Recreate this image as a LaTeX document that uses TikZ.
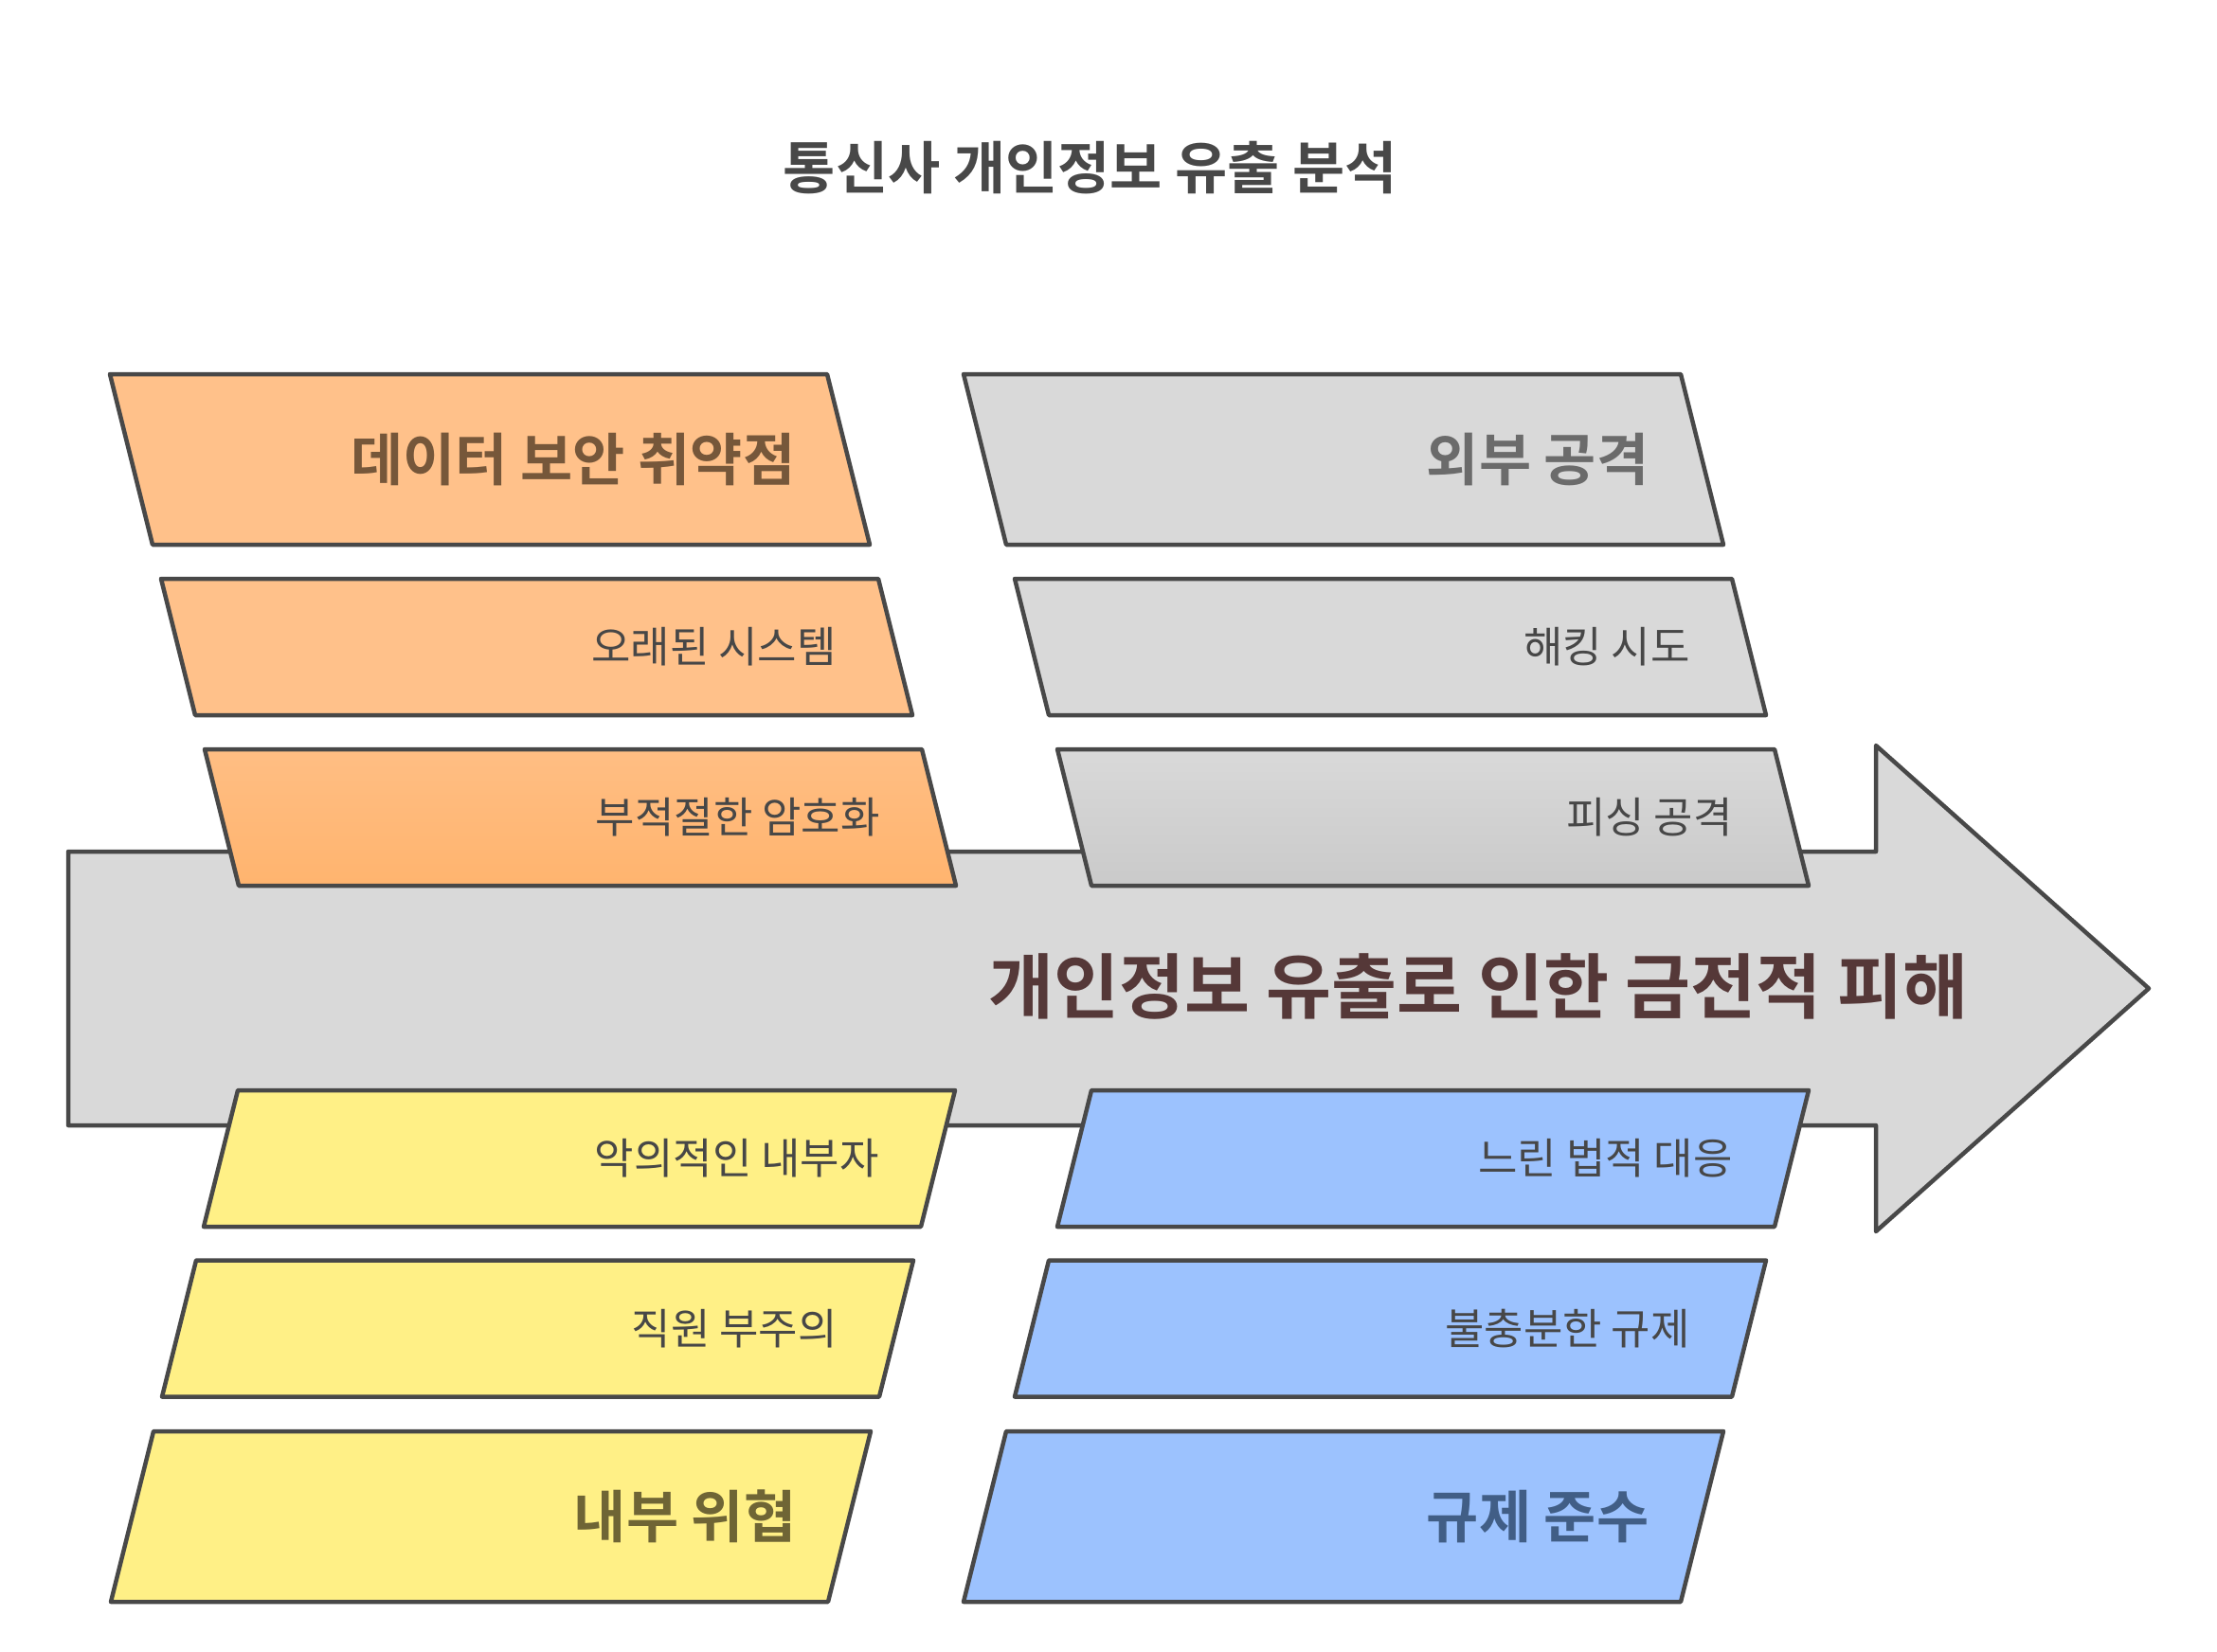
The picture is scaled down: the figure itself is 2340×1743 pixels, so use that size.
\documentclass[tikz,border=0pt]{standalone}
\usepackage{fontspec}
\usepackage{xcolor}
\usepackage{tikz}
\newfontfamily\krfont{Noto Sans CJK KR}[BoldFont={Noto Sans CJK KR Bold}]
\definecolor{edge}{HTML}{484848}
\definecolor{spinefill}{HTML}{D9D9D9}
\definecolor{orfill}{HTML}{FFC18A}
\definecolor{yefill}{HTML}{FFF086}
\definecolor{blfill}{HTML}{9CC2FE}
\definecolor{grfill}{HTML}{D9D9D9}
\definecolor{subtxt}{HTML}{474747}
\definecolor{hdbrown}{HTML}{76573A}
\definecolor{hdgray}{HTML}{6B6B6B}
\definecolor{hdolive}{HTML}{6F6535}
\definecolor{hdblue}{HTML}{415E86}
\definecolor{effecttxt}{HTML}{553838}
\definecolor{titletxt}{HTML}{484848}

\begin{document}
\begin{tikzpicture}[x=1pt, y=-1pt, line width=4.5pt, line join=round,
  orflat/.style={fill=orfill},
  orgrad/.style={top color=orfill!95!orange, bottom color=orfill!80!orange},
  grflat/.style={fill=grfill},
  grgrad/.style={top color=grfill, bottom color=grfill!93!black},
  yeflat/.style={fill=yefill},
  blflat/.style={fill=blfill},
  sublab/.style={anchor=east, inner sep=0pt, font=\krfont\fontsize{45}{50}\selectfont},
  headlab/.style={anchor=east, inner sep=0pt, xshift=6pt, font=\krfont\bfseries\fontsize{60}{66}\selectfont}]
  \useasboundingbox (0,0) rectangle (2340,1743);

  % --- title ---------------------------------------------------------------
  \node[text=titletxt, font=\krfont\bfseries\fontsize{60}{66}\selectfont] (title) at (1151,177) {통신사 개인정보 유출 분석};

  % --- the spine arrow -----------------------------------------------------
  \draw[draw=edge, fill=spinefill] (72,899) -- (1980,899) -- (1980,787) -- (2268,1043.5)
     -- (1980,1300) -- (1980,1188) -- (72,1188) -- cycle;

  % --- the ribs: upper ones lean right, lower ones lean left ----------------
  \foreach \nm/\x/\y/\h/\s/\fil/\lab/\lsty/\tc in {
     vuln/116/395/180/1/orflat/데이터 보안 취약점/headlab/hdbrown,
     legacy/170/611/144/1/orflat/오래된 시스템/sublab/subtxt,
     crypto/216/791/144/1/orgrad/부적절한 암호화/sublab/subtxt,
     insider/251/1151/144/-1/yeflat/악의적인 내부자/sublab/subtxt,
     careless/207/1330.5/144/-1/yeflat/직원 부주의/sublab/subtxt,
     inthreat/162/1511/180/-1/yeflat/내부 위협/headlab/hdolive,
     extatk/1017/395/180/1/grflat/외부 공격/headlab/hdgray,
     hack/1071/611/144/1/grflat/해킹 시도/sublab/subtxt,
     phish/1116/791/144/1/grgrad/피싱 공격/sublab/subtxt,
     slowlaw/1152/1151/144/-1/blflat/느린 법적 대응/sublab/subtxt,
     weakreg/1107/1330.5/144/-1/blflat/불충분한 규제/sublab/subtxt,
     comply/1062/1511/180/-1/blflat/규제 준수/headlab/hdblue} {
     \pgfmathsetmacro{\dx}{\s*\h/4}
     \draw[draw=edge, \fil] (\x,\y) -- (\x+757,\y) -- (\x+757+\dx,\y+\h) -- (\x+\dx,\y+\h) -- cycle;
     \node[\lsty, text=\tc] (\nm) at (\x+757+\dx/2-60,\y+\h/2) {\lab};
  }

  % --- the effect ------------------------------------------------------------
  \node[text=effecttxt, font=\krfont\bfseries\fontsize{75}{82}\selectfont] (effect) at (1561,1041) {개인정보 유출로 인한 금전적 피해};
\end{tikzpicture}
\end{document}
